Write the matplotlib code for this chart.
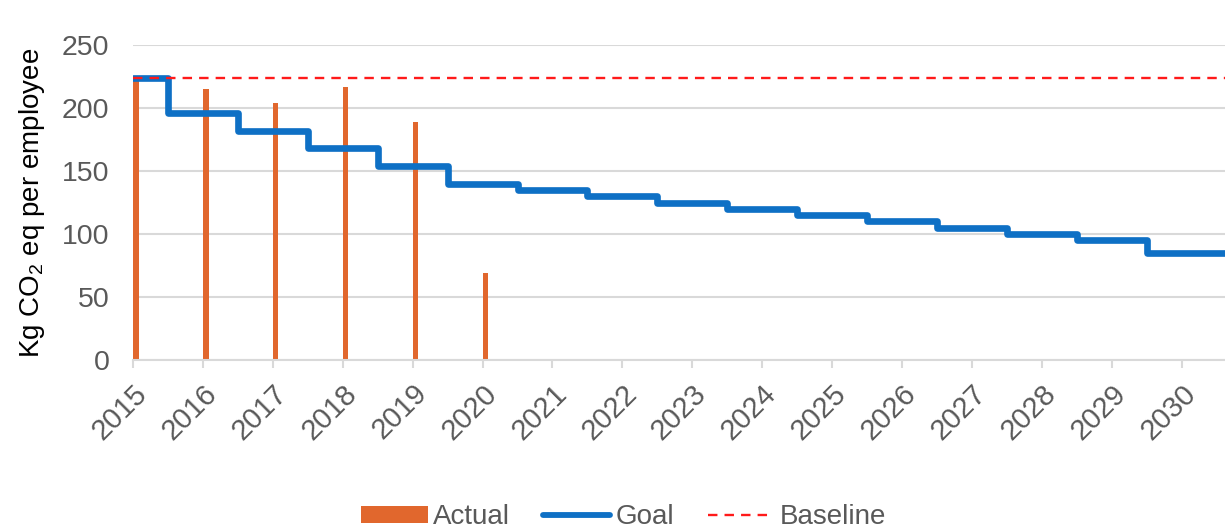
import numpy as np
import matplotlib
matplotlib.use("Agg")
import matplotlib.pyplot as plt
from matplotlib.patches import Patch
from matplotlib.lines import Line2D

plt.rcParams["font.family"] = ["Liberation Sans", "DejaVu Sans"]
plt.rcParams["mathtext.fontset"] = "custom"
plt.rcParams["mathtext.rm"] = "Liberation Sans"

# Data
years = np.arange(2015, 2031)
actual_years = np.arange(2015, 2021)
actual = [224, 215, 204, 217, 189, 69]
goal = [224, 196, 182, 168, 154, 140, 135, 130, 125, 120, 115, 110, 105, 100, 95, 85]
baseline = 224
y_ticks = [0, 50, 100, 150, 200, 250]

ORANGE = "#E1672D"
BLUE = "#0E70C5"
RED = "#FF1A1A"
GRID = "#D9D9D9"
TXT = "#595959"

fig = plt.figure(figsize=(12.25, 5.31), dpi=100)
ax = fig.add_axes([0.1086, 0.322, 0.8914, 0.593])

x_max = 2030.62
ax.set_xlim(years[0], x_max)
ax.set_ylim(0, 250)

# Actual values as thin bars starting at each year
ax.bar(actual_years, actual, width=0.08, align="edge", color=ORANGE, zorder=2)

# Goal as a stepped line changing halfway between years
edges = np.r_[years[0], years[1:] - 0.5, x_max]
ax.stairs(goal, edges, baseline=None, color=BLUE, linewidth=4.8, zorder=3,
          joinstyle="round", capstyle="round")

# Baseline
ax.axhline(baseline, color=RED, linewidth=1.7, dashes=(4, 3), zorder=4)

ax.set_yticks(y_ticks)
ax.set_xticks(years)
ax.set_xticklabels([str(y) for y in years], rotation=45, ha="right",
                   rotation_mode="anchor")
ax.yaxis.grid(True, color=GRID, linewidth=1.5, zorder=0)
ax.set_axisbelow(True)
for s in ["left", "right", "top"]:
    ax.spines[s].set_visible(False)
ax.spines["bottom"].set_color(GRID)
ax.spines["bottom"].set_linewidth(1.5)
ax.tick_params(axis="y", length=0, pad=17, labelsize=20.5, labelcolor=TXT)
ax.tick_params(axis="x", length=5.8, width=1.5, color=GRID, pad=8,
               labelsize=21, labelcolor=TXT)

ax.set_ylabel("Kg CO$\\mathregular{_2}$ eq per employee", fontsize=20,
              color="black", labelpad=11)

handles = [
    Patch(facecolor=ORANGE, edgecolor="none"),
    Line2D([], [], color=BLUE, linewidth=4.2, solid_capstyle="round"),
    Line2D([], [], color=RED, linewidth=1.7, dashes=(4, 3)),
]
fig.legend(handles, ["Actual", "Goal", "Baseline"], loc="lower center",
           bbox_to_anchor=(0.509, -0.046), ncol=3, frameon=False,
           fontsize=20, labelcolor=TXT, handlelength=2.4, handleheight=0.6,
           handletextpad=0.2, columnspacing=1.2)

fig.savefig("out.png", dpi=100)
